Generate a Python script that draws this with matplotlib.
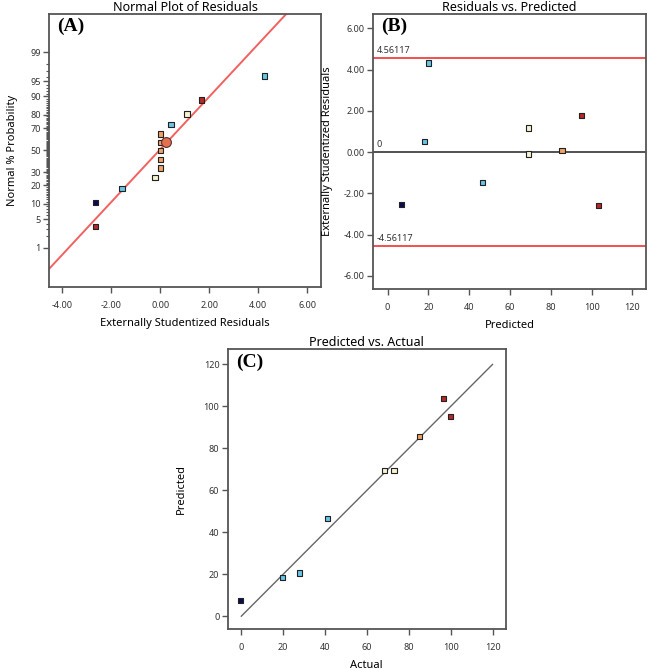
import matplotlib
matplotlib.use("Agg")
import matplotlib.pyplot as plt
from statistics import NormalDist

plt.rcParams['font.family'] = ['Noto Sans', 'DejaVu Sans']

# --- colours by response level (Design-Expert style)
navy = "#0b0b55"
cyan = "#66c6e6"
pale = "#f6f4cf"
orange = "#f2a266"
red = "#b8282a"

# --- (A) normal plot of residuals
resid_a = [-2.65, -2.65, -1.57, -0.22, 0.0, 0.0, 0.0, 0.0, 0.0, 0.44, 1.09, 1.69, 4.26]
prob_a = [3.4, 10.7, 18.2, 25.7, 33.4, 41.2, 49.4, 56.9, 64.9, 72.7, 80.5, 88.4, 96.1]
color_a = [red, navy, cyan, pale, orange, orange, orange, orange, orange, cyan, pale, red, cyan]
center_resid = 0.25
center_prob = 57.6
fit_slope = 0.626      # z per residual unit
fit_offset = 0.03
prob_ticks = [1, 5, 10, 20, 30, 50, 70, 80, 90, 95, 99]
resid_ticks = [-4, -2, 0, 2, 4, 6]

# --- (B) residuals vs predicted / (C) predicted vs actual
predicted = [6.8, 18.0, 20.1, 46.4, 69.1, 69.1, 85.5, 95.0, 103.4]
resid_b = [-2.55, 0.50, 4.31, -1.48, -0.10, 1.16, 0.08, 1.76, -2.58]
actual = [-0.3, 19.7, 27.7, 41.2, 68.3, 72.9, 85.2, 100.0, 96.5]
predicted_c = [7.5, 18.5, 20.6, 46.7, 69.4, 69.4, 85.8, 95.2, 103.7]
color_bc = [navy, cyan, cyan, cyan, pale, pale, orange, red, red]
limit = 4.56117
b_yticks = [-6, -4, -2, 0, 2, 4, 6]
pct_ticks = [0, 20, 40, 60, 80, 100, 120]

nd = NormalDist()
def z(p):
    return nd.inv_cdf(p / 100.0)

fig = plt.figure(figsize=(6.5, 6.7), dpi=100)
axA = fig.add_axes([0.0754, 0.5716, 0.4185, 0.4075])
axB = fig.add_axes([0.5743, 0.5687, 0.4191, 0.4104])
axC = fig.add_axes([0.3503, 0.0612, 0.4277, 0.4174])

spine_c = "#555555"
for ax in (axA, axB, axC):
    for s in ax.spines.values():
        s.set_color(spine_c)
        s.set_linewidth(1.3)
    ax.tick_params(direction='out', length=4, width=1, color=spine_c,
                   labelsize=6.5, labelcolor="#333333")
    ax.tick_params(axis='y', pad=2)
    ax.tick_params(axis='x', pad=6)

mk = dict(marker='s', s=15, edgecolors='#222222', linewidths=0.8, zorder=3)
title_kw = dict(fontsize=9, pad=1)
lab_kw = dict(fontsize=8)

# (A)
xl = [-4.6, 6.6]
axA.plot(xl, [fit_slope * (v + fit_offset) for v in xl], color="#f26060", lw=1.4, zorder=2)
axA.scatter(resid_a, [z(p) for p in prob_a], c=color_a, **mk)
axA.scatter([center_resid], [z(center_prob)], s=50, marker='o', c="#e3704e",
            edgecolors='#553333', linewidths=0.8, zorder=4)
axA.set_xlim(-4.55, 6.57)
axA.set_ylim(-3.26, 3.24)
axA.set_xticks(resid_ticks, ["%.2f" % v for v in resid_ticks])
axA.set_yticks([z(p) for p in prob_ticks], [str(p) for p in prob_ticks])
axA.set_yticks([z(p) for p in range(2, 99) if p not in prob_ticks], minor=True)
axA.tick_params(axis='y', which='minor', length=2.5, width=0.8, color=spine_c)
axA.set_title("Normal Plot of Residuals", **title_kw)
axA.set_xlabel("Externally Studentized Residuals", labelpad=6, **lab_kw)
axA.set_ylabel("Normal % Probability", labelpad=9, **lab_kw)
axA.text(0.03, 0.985, "(A)", transform=axA.transAxes, ha='left', va='top',
         fontsize=14, fontweight='bold', family='Liberation Serif')

# (B)
axB.axhline(limit, color="#f25050", lw=1.4, zorder=2)
axB.axhline(-limit, color="#f25050", lw=1.4, zorder=2)
axB.axhline(0, color="#222222", lw=1.1, zorder=2)
axB.scatter(predicted, resid_b, c=color_bc, **mk)
axB.set_xlim(-7.0, 126.5)
axB.set_ylim(-6.63, 6.69)
axB.set_xticks(pct_ticks)
axB.set_yticks(b_yticks, ["%.2f" % v for v in b_yticks])
for v, lab in [(limit, "%.5f" % limit), (0, "0"), (-limit, "%.5f" % -limit)]:
    axB.text(-5.5, v + 0.15, lab, fontsize=6.5, color="#333333", ha='left', va='bottom')
axB.set_title("Residuals vs. Predicted", **title_kw)
axB.set_xlabel("Predicted", labelpad=6, **lab_kw)
axB.set_ylabel("Externally Studentized Residuals", labelpad=8, **lab_kw)
axB.text(0.03, 0.985, "(B)", transform=axB.transAxes, ha='left', va='top',
         fontsize=14, fontweight='bold', family='Liberation Serif')

# (C)
axC.plot([0, 120], [0, 120], color="#666666", lw=1.0, zorder=2)
axC.scatter(actual, predicted_c, c=color_bc, **mk)
axC.set_xlim(-6.5, 126.3)
axC.set_ylim(-6.1, 127.2)
axC.set_xticks(pct_ticks)
axC.set_yticks(pct_ticks)
axC.set_title("Predicted vs. Actual", **title_kw)
axC.set_xlabel("Actual", labelpad=6, **lab_kw)
axC.set_ylabel("Predicted", labelpad=12, **lab_kw)
axC.text(0.03, 0.985, "(C)", transform=axC.transAxes, ha='left', va='top',
         fontsize=14, fontweight='bold', family='Liberation Serif')

fig.savefig("out.png", dpi=100)
